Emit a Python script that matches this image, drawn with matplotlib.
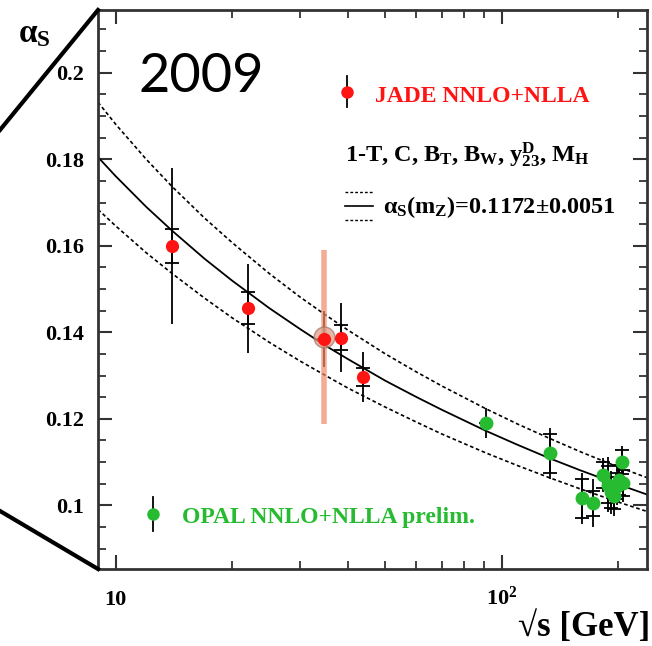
import numpy as np
import matplotlib
matplotlib.use("Agg")
import matplotlib.pyplot as plt
from matplotlib.lines import Line2D
from matplotlib.ticker import MultipleLocator, FixedLocator, FuncFormatter, NullFormatter

# running coupling curves
curve_sqrt_s = [9, 10, 12, 14, 17, 20, 25, 30, 35, 40, 50, 60, 70, 91.2, 110, 133, 160, 200, 240]
curve_mid = [0.1805, 0.1761, 0.1690, 0.1635, 0.1570, 0.1520, 0.1456, 0.1408, 0.1369, 0.1338,
             0.1288, 0.1251, 0.1221, 0.1172, 0.1140, 0.1109, 0.1081, 0.1049, 0.1024]
curve_up = [0.1932, 0.1881, 0.1800, 0.1737, 0.1664, 0.1608, 0.1536, 0.1482, 0.1440, 0.1405,
            0.1350, 0.1309, 0.1276, 0.1223, 0.1188, 0.1155, 0.1124, 0.1089, 0.1063]
curve_lo = [0.1684, 0.1646, 0.1584, 0.1536, 0.1479, 0.1434, 0.1377, 0.1334, 0.1300, 0.1271,
            0.1227, 0.1193, 0.1165, 0.1121, 0.1092, 0.1064, 0.1038, 0.1008, 0.0985]

# JADE points
jade_sqrt_s = [14.0, 22.0, 34.6, 38.3, 43.8]
jade_alpha = [0.1600, 0.1456, 0.1385, 0.1388, 0.1297]
jade_tot = [0.0180, 0.0103, 0.0064, 0.0080, 0.0057]
jade_stat = [0.0040, 0.0037, 0.0000, 0.0028, 0.0020]
# highlighted 35 GeV point with wide band
band_sqrt_s = [34.6]
band_alpha = [0.1390]
band_err = [0.0201]

# OPAL points
opal_sqrt_s = [91.2, 133.1, 161.3, 172.1, 182.8, 188.6, 191.6, 195.5, 199.5, 201.6, 204.9, 206.6]
opal_alpha = [0.1191, 0.1120, 0.1016, 0.1005, 0.1070, 0.1048, 0.1030, 0.1021, 0.1045, 0.1058, 0.1101, 0.1052]
opal_tot = [0.0035, 0.0058, 0.0058, 0.0055, 0.0040, 0.0063, 0.0050, 0.0045, 0.0045, 0.0050, 0.0036, 0.0045]
opal_stat = [0.0000, 0.0046, 0.0045, 0.0029, 0.0030, 0.0042, 0.0035, 0.0030, 0.0030, 0.0035, 0.0028, 0.0030]

RED = '#ff1414'
GREEN = '#26bb30'

plt.rcParams['font.family'] = 'serif'
plt.rcParams['font.serif'] = ['Liberation Serif', 'DejaVu Serif']
plt.rcParams['font.weight'] = 'bold'
plt.rcParams['mathtext.fontset'] = 'custom'
plt.rcParams['mathtext.rm'] = 'Liberation Serif:bold'
plt.rcParams['mathtext.it'] = 'Liberation Serif:bold'
plt.rcParams['mathtext.bf'] = 'Liberation Serif:bold'

fig = plt.figure(figsize=(6.52, 6.46), dpi=100)
ax = fig.add_axes([0.1503, 0.1192, 0.842, 0.8653])

# curves
ax.plot(curve_sqrt_s, curve_mid, color='k', lw=1.3)
ax.plot(curve_sqrt_s, curve_up, color='k', lw=1.2, ls=(0, (2.2, 1.6)))
ax.plot(curve_sqrt_s, curve_lo, color='k', lw=1.2, ls=(0, (2.2, 1.6)))

# wide band at 35 GeV
ax.errorbar(band_sqrt_s, band_alpha, yerr=band_err, fmt='none', ecolor='#f08a68',
            elinewidth=4, alpha=0.7, zorder=4)
ax.plot(band_sqrt_s, band_alpha, 'o', ms=15, mfc='#d89a84', mec='#a87060', alpha=0.7, zorder=4)

# error bars
ax.errorbar(jade_sqrt_s, jade_alpha, yerr=jade_tot, fmt='none', ecolor='k', elinewidth=1.3, zorder=3)
ax.errorbar(jade_sqrt_s, jade_alpha, yerr=jade_stat, fmt='none', ecolor='k', elinewidth=1.3,
            capsize=5, capthick=1.3, zorder=3)
ax.errorbar(opal_sqrt_s, opal_alpha, yerr=opal_tot, fmt='none', ecolor='k', elinewidth=1.3, zorder=3)
ax.errorbar(opal_sqrt_s, opal_alpha, yerr=opal_stat, fmt='none', ecolor='k', elinewidth=1.3,
            capsize=5, capthick=1.3, zorder=3)

ax.plot(jade_sqrt_s, jade_alpha, 'o', color=RED, ms=9.5, mec='none', zorder=5)
ax.plot(opal_sqrt_s, opal_alpha, 'o', color=GREEN, ms=10, mec='none', zorder=5)

# axes
ax.set_xscale('log')
ax.set_xlim(9, 238)
ax.set_ylim(0.0853, 0.2145)
ax.yaxis.set_major_locator(MultipleLocator(0.02))
ax.yaxis.set_minor_locator(MultipleLocator(0.005))
ax.yaxis.set_major_formatter(FuncFormatter(lambda v, p: '%g' % round(v, 3)))
ax.xaxis.set_major_locator(FixedLocator([10, 100]))
ax.xaxis.set_minor_locator(FixedLocator([20, 30, 40, 50, 60, 70, 80, 90, 200]))
ax.xaxis.set_major_formatter(FuncFormatter(lambda v, p: '10' if v < 50 else r'$10^{2}$'))
ax.xaxis.set_minor_formatter(NullFormatter())

ax.tick_params(which='both', direction='in', top=True, right=True, color='#333333')
ax.tick_params(which='major', length=10, width=1.5, labelsize=16)
ax.tick_params(which='minor', length=6, width=1.3)
ax.tick_params(axis='y', which='major', pad=10)
ax.tick_params(axis='x', which='major', pad=26)
plt.setp(ax.get_xticklabels(), va='baseline')
for s in ax.spines.values():
    s.set_linewidth(2)
    s.set_color('#333333')

# labels
fig.text(0.028, 0.934, r'$\alpha_{\rm S}$', fontsize=24, ha='left', va='baseline')
fig.text(0.998, 0.016, '√s [GeV]', fontsize=25, ha='right', va='baseline')
fig.text(0.2117, 0.8576, '2009', fontsize=39, family='Lato', weight='normal', ha='left', va='baseline')

# legend
ax.plot([0.4536, 0.4536], [0.826, 0.882], transform=ax.transAxes, color='k', lw=1.3)
ax.plot([0.4536], [0.8533], 'o', transform=ax.transAxes, color=RED, ms=9, mec='none')
ax.text(0.5046, 0.836, 'JADE NNLO+NLLA', transform=ax.transAxes, color=RED, fontsize=17,
        va='baseline')
ax.text(0.45, 0.728, r'1-T, C, B$_{\rm T}$, B$_{\rm W}$, y$^{\rm D}_{23}$, M$_{\rm H}$',
        transform=ax.transAxes, fontsize=17.5, va='baseline')
ax.plot([0.45, 0.501], [0.675, 0.675], transform=ax.transAxes, color='k', lw=1, ls=(0, (2, 1.5)))
ax.plot([0.45, 0.501], [0.6494, 0.6494], transform=ax.transAxes, color='k', lw=1.2)
ax.plot([0.45, 0.501], [0.6243, 0.6243], transform=ax.transAxes, color='k', lw=1, ls=(0, (2, 1.5)))
ax.text(0.519, 0.6369, r'$\alpha_{\rm S}$(m$_{\rm Z}$)=0.1172$\pm$0.0051', transform=ax.transAxes,
        fontsize=17.5, va='baseline')

ax.plot([0.1002, 0.1002], [0.068, 0.129], transform=ax.transAxes, color='k', lw=1.3)
ax.plot([0.1002], [0.0984], 'o', transform=ax.transAxes, color=GREEN, ms=9, mec='none')
ax.text(0.153, 0.0823, 'OPAL NNLO+NLLA prelim.', transform=ax.transAxes, color=GREEN, fontsize=17,
        va='baseline')

# zoom lines towards the axes corners
fig.add_artist(Line2D([0, 0.1503], [0.7988, 0.9845], transform=fig.transFigure, color='k', lw=3))
fig.add_artist(Line2D([0, 0.1503], [0.209, 0.1192], transform=fig.transFigure, color='k', lw=3))

fig.savefig('out.png', dpi=100)
